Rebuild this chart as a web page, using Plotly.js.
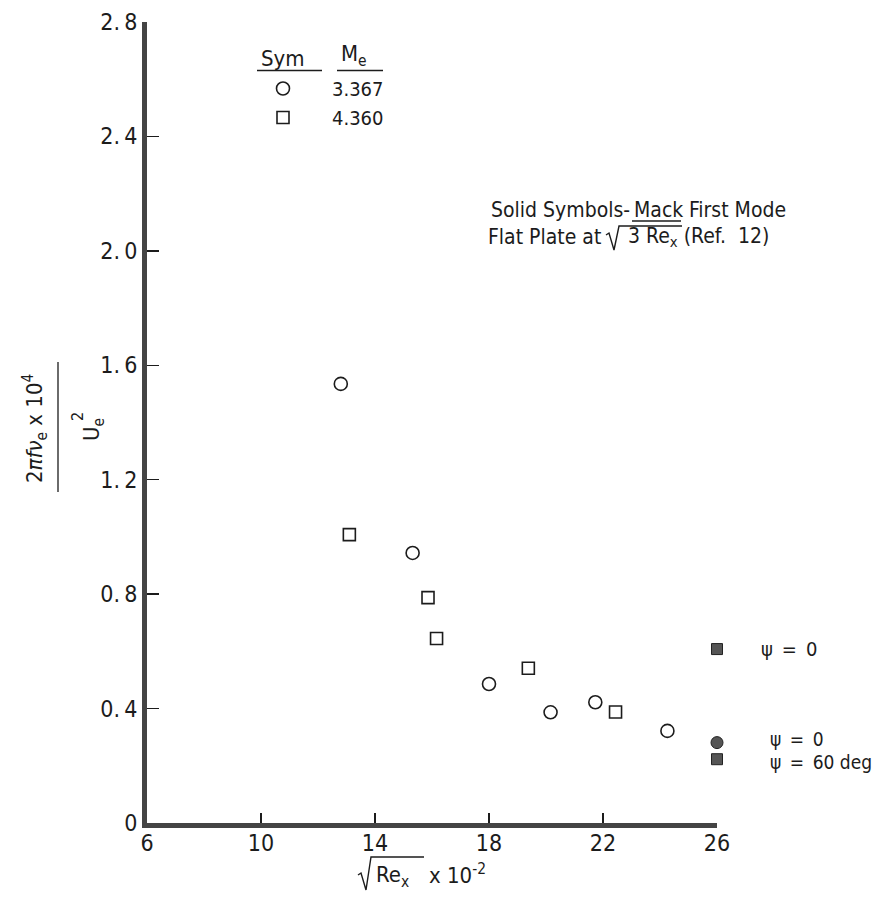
<!DOCTYPE html>
<html>
<head>
<meta charset="utf-8">
<script src="https://cdn.plot.ly/plotly-3.0.1.min.js"></script>
<style>html,body{margin:0;padding:0;background:#fff;}#chart{width:876px;height:901px;}</style>
</head>
<body>
<div id="chart"></div>
<script>
// ---- data ----
const circleLabel = "3.367";            // M_e for open circles
const circleX = [12.8, 15.32, 18.0, 20.16, 21.73, 24.26];
const circleY = [1.535, 0.944, 0.486, 0.387, 0.422, 0.322];

const squareLabel = "4.360";            // M_e for open squares
const squareX = [13.1, 15.86, 16.16, 19.38, 22.44];
const squareY = [1.008, 0.788, 0.645, 0.541, 0.388];

// solid symbols: Mack first mode, flat plate at sqrt(3 Re_x)
const mackSquareX = [26, 26];
const mackSquareY = [0.608, 0.223];
const mackCircleX = [26];
const mackCircleY = [0.281];

const xTicks = [6, 10, 14, 18, 22, 26];
const yTicks = [0, 0.4, 0.8, 1.2, 1.6, 2.0, 2.4, 2.8];
const yTickText = ["0", "0.\u20094", "0.\u20098", "1.\u20092", "1.\u20096", "2.\u20090", "2.\u20094", "2.\u20098"];

// ---- layout helpers (pixel -> paper) ----
const W = 876, H = 901;
const L = 147, R = 717, T = 22, B = 823;
const px = x => (x - L) / (R - L);
const py = y => (B - y) / (B - T);
const FONT = "Liberation Sans Narrow, DejaVu Sans Condensed, Roboto, sans-serif";
const INK = "#1c1c1c";

const traces = [
  {x: circleX, y: circleY, name: circleLabel, type: "scatter", mode: "markers", cliponaxis: false,
   marker: {symbol: "circle-open", size: 13, color: INK, line: {width: 1.6}}},
  {x: squareX, y: squareY, name: squareLabel, type: "scatter", mode: "markers", cliponaxis: false,
   marker: {symbol: "square-open", size: 12, color: INK, line: {width: 1.6}}},
  {x: mackSquareX, y: mackSquareY, type: "scatter", mode: "markers", showlegend: false, cliponaxis: false,
   marker: {symbol: "square", size: 11, color: "#555", line: {width: 1, color: "#222"}}},
  {x: mackCircleX, y: mackCircleY, type: "scatter", mode: "markers", showlegend: false, cliponaxis: false,
   marker: {symbol: "circle", size: 12, color: "#555", line: {width: 1, color: "#222"}}}
];

function ann(text, x, y, opts) {
  return Object.assign({text: text, xref: "paper", yref: "paper", x: px(x), y: py(y),
    xanchor: "left", yanchor: "middle", showarrow: false,
    font: {family: FONT, size: 21, color: INK}}, opts || {});
}

const annotations = [
  ann("Sym", 259, 58, {font: {family: FONT, size: 22, color: INK}}),
  ann("M<sub>e</sub>", 339, 56, {font: {family: FONT, size: 22, color: INK}}),
  ann("Solid Symbols-", 632, 210, {xanchor: "right"}),
  ann("Mack", 632, 210),
  ann("First Mode", 687, 210),
  ann("Flat Plate at", 603, 237, {xanchor: "right"}),
  ann("3 Re<sub>x</sub> (Ref.  12)", 626, 237),
  ann("\u03c8\u2002=\u20020", 759, 649, {font: {family: FONT, size: 20, color: INK}}),
  ann("\u03c8\u2002=\u20020", 768, 739, {font: {family: FONT, size: 19, color: INK}}),
  ann("\u03c8\u2002=\u200260 deg", 768, 762, {font: {family: FONT, size: 19, color: INK}}),
  ann("Re<sub>x</sub>", 374, 876, {font: {family: FONT, size: 22, color: INK}}),
  ann("x 10<sup>-2</sup>", 427, 874, {font: {family: FONT, size: 22, color: INK}}),
  // y-axis title as a fraction
  ann("2<i>\u03c0f\u03bd</i><sub>e</sub> x 10<sup>4</sup>", 35, 428,
      {xanchor: "center", textangle: -90, font: {family: FONT, size: 22, color: INK}}),
  ann("U<sub>e</sub>", 93, 430, {xanchor: "center", textangle: -90, font: {family: FONT, size: 22, color: INK}}),
  ann("2", 77, 417, {xanchor: "center", textangle: -90, font: {family: FONT, size: 16, color: INK}})
];

function seg(x0, y0, x1, y1, w) {
  return {type: "line", xref: "paper", yref: "paper", x0: px(x0), y0: py(y0), x1: px(x1), y1: py(y1),
          line: {color: INK, width: w || 1.3}};
}
function path(pts, w) {
  const d = pts.map((p, i) => (i ? "L" : "M") + px(p[0]).toFixed(5) + "," + py(p[1]).toFixed(5)).join(" ");
  return {type: "path", xref: "paper", yref: "paper", path: d, line: {color: INK, width: w || 1.4}};
}

const shapes = [
  seg(257, 70.5, 322, 70.5),          // Sym underline
  seg(337, 70.5, 383, 70.5),          // M_e underline
  seg(632, 221, 681, 221),            // Mack underline
  seg(58, 362, 58, 492),              // fraction bar of y title
  path([[606, 235], [609, 233], [614, 250], [619, 226], [682, 226]]),   // radical in note
  path([[358, 875], [361, 873], [366, 890], [371, 857], [424, 857]])    // radical in x title
];

const layout = {
  width: W, height: H,
  margin: {l: L, r: W - R, t: T, b: H - B, pad: 0},
  paper_bgcolor: "#fff", plot_bgcolor: "#fff",
  font: {family: FONT, color: INK},
  showlegend: true,
  legend: {x: px(234), y: py(69), xanchor: "left", yanchor: "top", bgcolor: "rgba(0,0,0,0)",
           borderwidth: 0, itemwidth: 88, font: {family: FONT, size: 20, color: INK},
           itemclick: false, itemdoubleclick: false},
  xaxis: {range: [6, 26], tickvals: xTicks, ticktext: xTicks.map(String), ticks: "inside", ticklen: 10,
          tickwidth: 1.5, tickcolor: INK, showline: true, linewidth: 5, linecolor: "#444",
          showgrid: false, zeroline: false, fixedrange: true, ticklabelstandoff: -5,
          tickfont: {family: FONT, size: 23, color: INK}},
  yaxis: {range: [0, 2.8], tickvals: yTicks, ticktext: yTickText, ticks: "inside", ticklen: 12,
          tickwidth: 1.5, tickcolor: INK, showline: true, linewidth: 5, linecolor: "#444",
          showgrid: false, zeroline: false, fixedrange: true,
          tickfont: {family: FONT, size: 23, color: INK}},
  annotations: annotations,
  shapes: shapes
};

Plotly.newPlot("chart", traces, layout, {displayModeBar: false, staticPlot: true});
</script>
</body>
</html>
